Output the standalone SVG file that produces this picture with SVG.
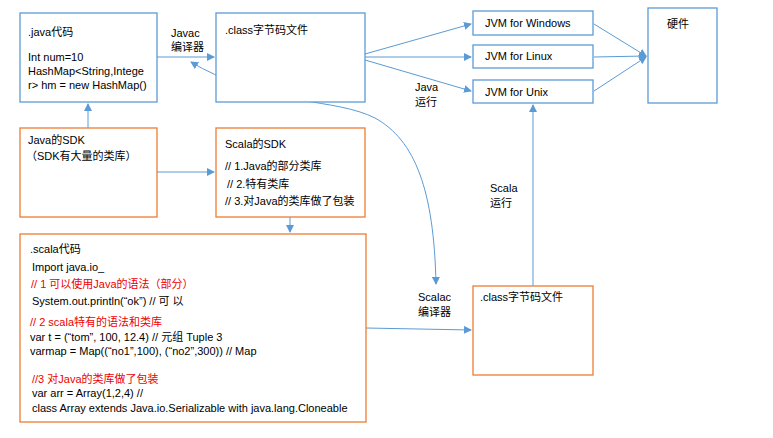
<svg xmlns="http://www.w3.org/2000/svg" width="773" height="438" viewBox="0 0 773 438">
<style>
text{font-family:"Liberation Sans","Noto Sans CJK SC",sans-serif;font-size:11px;fill:#000}
.b{fill:#fff;stroke:#5b9bd5;stroke-width:1.3}
.o{fill:#fff;stroke:#ed7d31;stroke-width:1.3}
.r{fill:#e00}
.c{stroke:#5b9bd5;stroke-width:1;fill:none;marker-end:url(#a)}
</style>
<defs><marker id="a" markerWidth="8" markerHeight="8" refX="7" refY="4" orient="auto" markerUnits="userSpaceOnUse"><path d="M0,0L8,4L0,8z" fill="#5b9bd5"/></marker></defs>
<rect width="773" height="438" fill="#fff"/>
<g id="connectors">
<line class="c" x1="157" y1="57" x2="214" y2="57"/>
<line class="c" x1="88" y1="128" x2="88" y2="104"/>
<line class="c" x1="157" y1="172" x2="214" y2="172"/>
<line class="c" x1="290" y1="217" x2="290" y2="232"/>
<line class="c" x1="366" y1="328" x2="471" y2="330"/>
<line class="c" x1="365" y1="54" x2="471" y2="24"/>
<line class="c" x1="365" y1="57" x2="471" y2="57"/>
<line class="c" x1="365" y1="60" x2="471" y2="91"/>
<line class="c" x1="594" y1="24" x2="646" y2="56"/>
<line class="c" x1="594" y1="57" x2="646" y2="56"/>
<line class="c" x1="594" y1="91" x2="646" y2="57"/>
<line class="c" x1="533" y1="286" x2="533" y2="105"/>
<path class="c" d="M300 100 C260 92 220 80 191 62"/>
<path class="c" d="M300 100 C330 105 355 108 375 118 C415 140 434 190 436 284"/>
</g>
<g id="java-code"><rect class="b" x="20" y="13" width="137" height="89"/>
<text x="28" y="36">.java代码</text><text x="28" y="61">Int num=10</text><text x="28" y="75">HashMap&lt;String,Intege</text><text x="28" y="89">r&gt; hm = new HashMap()</text></g>
<g id="java-class"><rect class="b" x="216" y="13" width="149" height="89"/><text x="225" y="34">.class字节码文件</text></g>
<g id="java-sdk"><rect class="o" x="20" y="128" width="137" height="89"/><text x="28" y="144">Java的SDK</text><text x="26" y="160">（SDK有大量的类库）</text></g>
<g id="scala-sdk"><rect class="o" x="216" y="128" width="149" height="89"/><text x="225" y="148">Scala的SDK</text><text x="225" y="170">// 1.Java的部分类库</text><text x="227" y="188">// 2.特有类库</text><text x="225" y="205">// 3.对Java的类库做了包装</text></g>
<g id="scala-code"><rect class="o" x="20" y="234" width="346" height="188"/>
<text x="30" y="253">.scala代码</text>
<text x="32" y="271">Import java.io_</text>
<text class="r" x="31" y="288">// 1 可以使用Java的语法（部分）</text>
<text x="32" y="305">System.out.println(“ok”) // 可 以</text>
<text class="r" x="30" y="326">// 2 scala特有的语法和类库</text>
<text x="30" y="341">var t = (“tom”, 100, 12.4) // 元组 Tuple 3</text>
<text x="30" y="355">varmap = Map((“no1”,100), (“no2”,300)) // Map</text>
<text class="r" x="32" y="383">//3 对Java的类库做了包装</text>
<text x="32" y="397">var arr = Array(1,2,4) //</text>
<text x="32" y="412">class Array extends Java.io.Serializable with java.lang.Cloneable</text></g>
<g id="jvm-win"><rect class="b" x="473" y="11" width="120" height="24"/><text x="485" y="27">JVM for Windows</text></g>
<g id="jvm-linux"><rect class="b" x="473" y="45" width="120" height="23"/><text x="485" y="60">JVM for Linux</text></g>
<g id="jvm-unix"><rect class="b" x="473" y="80" width="120" height="23"/><text x="485" y="96">JVM for Unix</text></g>
<g id="hardware"><rect class="b" x="648" y="8" width="69" height="95"/><text x="667" y="28">硬件</text></g>
<g id="scala-class"><rect class="o" x="473" y="286" width="120" height="89"/><text x="480" y="301">.class字节码文件</text></g>
<g id="labels">
<text x="171" y="37">Javac</text><text x="171" y="51">编译器</text>
<text x="415" y="91">Java</text><text x="415" y="106">运行</text>
<text x="490" y="192">Scala</text><text x="490" y="207">运行</text>
<text x="418" y="301">Scalac</text><text x="418" y="316">编译器</text>
</g>
</svg>
